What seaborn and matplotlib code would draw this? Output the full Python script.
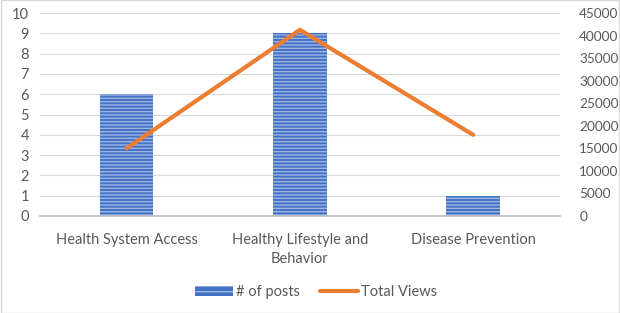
import matplotlib.pyplot as plt
import seaborn as sns
import pandas as pd
from matplotlib.patches import Patch, Rectangle
from matplotlib.lines import Line2D

categories = ['Health System Access', 'Healthy Lifestyle and\nBehavior', 'Disease Prevention']
posts = [6, 9, 1]
views = [15000, 41300, 18000]

df = pd.DataFrame({'categoria': categories, 'posts': posts, 'views': views})

sns.set_style('white')
plt.rcParams['font.family'] = ['Lato', 'DejaVu Sans']
plt.rcParams['hatch.linewidth'] = 1.0

azul = '#4472C4'
naranja = '#ED7D31'
gris = '#595959'

fig = plt.figure(figsize=(6.2, 3.13), dpi=100)
ax = fig.add_axes([0.0645, 0.31, 0.8385, 0.648])

# Barras con rayado horizontal
sns.barplot(data=df, x='categoria', y='posts', ax=ax, color=azul, width=0.31,
            saturation=1, edgecolor='#9DB5E3', linewidth=0, hatch='-----')

ax.set_ylim(0, 10)
ax.set_yticks(range(0, 11))
ax.grid(axis='y', color='#D9D9D9', linewidth=0.8)
ax.set_axisbelow(True)
ax.set_xlabel('')
ax.set_ylabel('')
for s in ['top', 'right', 'left']:
    ax.spines[s].set_visible(False)
ax.spines['bottom'].set_color('#BFBFBF')
ax.spines['bottom'].set_linewidth(1.2)
ax.tick_params(axis='both', length=0, labelsize=10.5, colors=gris, pad=8)
ax.tick_params(axis='x', pad=12)
for lbl in ax.get_xticklabels():
    lbl.set_linespacing(1.5)

# Linea de vistas en eje secundario
ax2 = ax.twinx()
sns.lineplot(data=df, x='categoria', y='views', ax=ax2, sort=False,
             color=naranja, linewidth=3)
ax2.set_ylim(0, 45000)
ax2.set_yticks(range(0, 45001, 5000))
ax2.set_ylabel('')
for s in ['top', 'right', 'left', 'bottom']:
    ax2.spines[s].set_visible(False)
ax2.tick_params(axis='y', length=0, labelsize=9.8, colors=gris, pad=14)
ax.set_xlim(-0.5, 2.5)

# Leyenda
handles = [Patch(facecolor=azul, edgecolor='#9DB5E3', hatch='---', linewidth=0),
           Line2D([0], [0], color=naranja, linewidth=3)]
fig.legend(handles, ['# of posts', 'Total Views'], loc='center', bbox_to_anchor=(0.51, 0.067),
           ncol=2, frameon=False, fontsize=10.5, labelcolor=gris, handlelength=2.6,
           columnspacing=1.4, handletextpad=0.2)

# Borde del grafico
fig.patches.append(Rectangle((0.001, 0.001), 0.998, 0.998, transform=fig.transFigure,
                             fill=False, edgecolor='#D9D9D9', linewidth=1))

fig.savefig('out.png', dpi=100)
